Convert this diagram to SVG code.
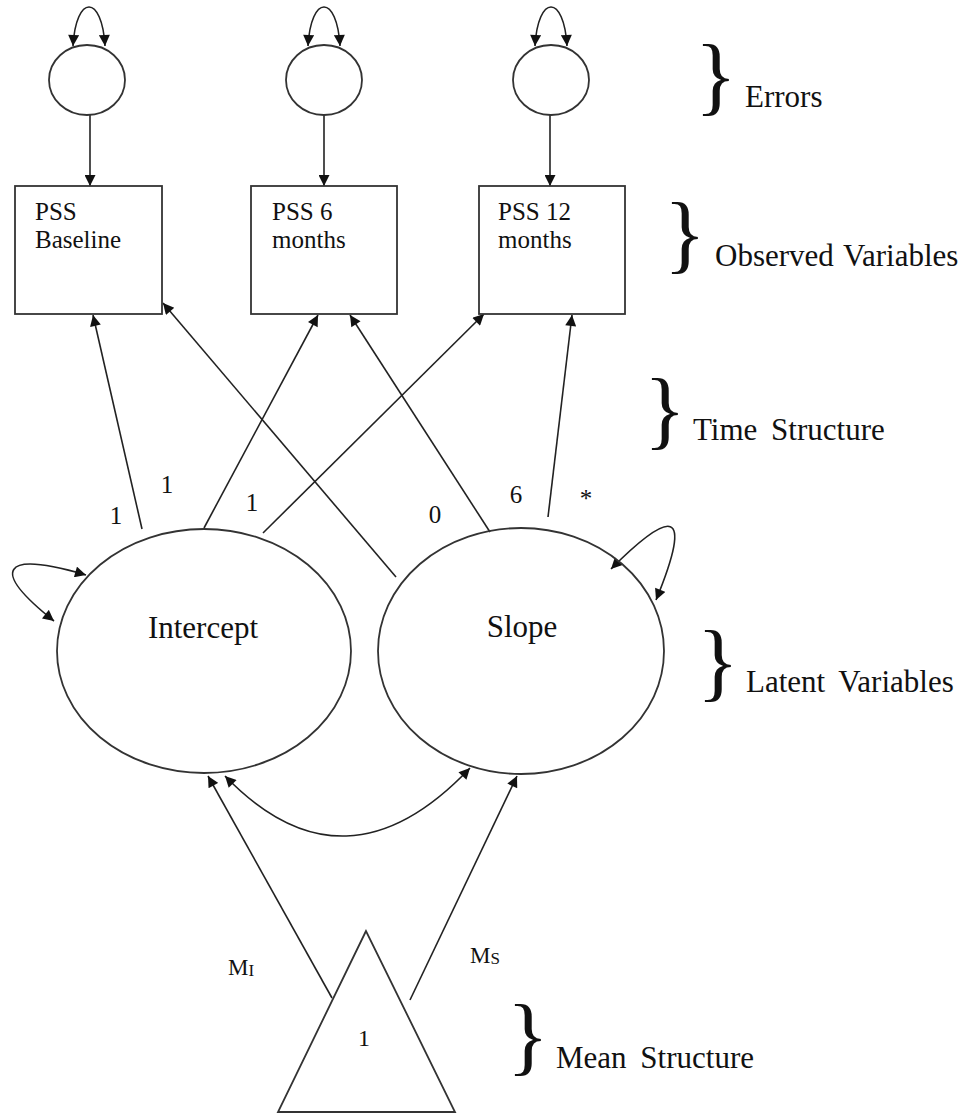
<svg xmlns="http://www.w3.org/2000/svg" width="965" height="1114" viewBox="0 0 965 1114">
<defs>
<marker id="ah" viewBox="0 0 10 10" refX="10" refY="5" markerWidth="13" markerHeight="11" markerUnits="userSpaceOnUse" orient="auto-start-reverse"><path d="M0,0 L10,5 L0,10 z" fill="#111"/></marker>
</defs>
<style>
.n{fill:#fff;stroke:#333;stroke-width:1.8}
.c{fill:none;stroke:#222;stroke-width:1.6}
.a{marker-end:url(#ah)}
.b{marker-start:url(#ah);marker-end:url(#ah)}
.t{font-family:"Liberation Serif","Times New Roman","DejaVu Serif",serif;fill:#111}
.box{font-size:25px}
.lv{font-size:31px;text-anchor:middle}
.lab{font-size:31px;word-spacing:6px}
.br{font-size:87px}
.num{font-size:25px;text-anchor:middle}
.m{font-size:23px}
</style>
<rect width="965" height="1114" fill="#fff"/>

<g id="connectors">
  <!-- error variance loops -->
  <path class="c b" d="M73,46 C76,-6 102,-6 105,46"/>
  <path class="c b" d="M308,46 C311,-6 337,-6 340,46"/>
  <path class="c b" d="M535,46 C538,-6 564,-6 567,46"/>
  <!-- error to observed -->
  <line class="c a" x1="90" y1="115" x2="90" y2="186"/>
  <line class="c a" x1="324" y1="115" x2="324" y2="186"/>
  <line class="c a" x1="550" y1="115" x2="550" y2="186"/>
  <!-- intercept loadings -->
  <line class="c a" x1="142" y1="529" x2="93" y2="315"/>
  <line class="c a" x1="204" y1="528" x2="318" y2="315"/>
  <line class="c a" x1="263" y1="533" x2="484" y2="314"/>
  <!-- slope loadings -->
  <line class="c a" x1="396" y1="577" x2="163" y2="303"/>
  <line class="c a" x1="490" y1="532" x2="350" y2="315"/>
  <line class="c a" x1="548" y1="517" x2="572" y2="315"/>
  <!-- latent variance loops -->
  <path class="c b" d="M86,575 C0,550 -10,570 54,621"/>
  <path class="c b" d="M611,569 C670,510 695,505 656,600"/>
  <!-- covariance -->
  <path class="c b" d="M225,776 Q345,900 470,768"/>
  <!-- mean structure -->
  <line class="c a" x1="332" y1="998" x2="208" y2="776"/>
  <line class="c a" x1="410" y1="1000" x2="517" y2="776"/>
</g>

<g id="error1"><ellipse class="n" cx="87" cy="80" rx="38" ry="35"/></g>
<g id="error2"><ellipse class="n" cx="324" cy="80" rx="38" ry="35"/></g>
<g id="error3"><ellipse class="n" cx="551" cy="80" rx="38" ry="35"/></g>

<g id="pss-baseline">
  <rect class="n" x="15" y="186" width="147" height="128"/>
  <text class="t box" x="35" y="220">PSS</text>
  <text class="t box" x="35" y="248">Baseline</text>
</g>
<g id="pss-6">
  <rect class="n" x="251" y="186" width="146" height="128"/>
  <text class="t box" x="272" y="220">PSS 6</text>
  <text class="t box" x="272" y="248">months</text>
</g>
<g id="pss-12">
  <rect class="n" x="479" y="186" width="146" height="128"/>
  <text class="t box" x="498" y="220">PSS 12</text>
  <text class="t box" x="498" y="248">months</text>
</g>

<g id="intercept">
  <ellipse class="n" cx="204" cy="651" rx="147" ry="122" style="fill:none"/>
  <text class="t lv" x="203" y="638">Intercept</text>
</g>
<g id="slope">
  <ellipse class="n" cx="521" cy="651" rx="143" ry="123" style="fill:none"/>
  <text class="t lv" x="522" y="637">Slope</text>
</g>

<g id="mean">
  <polygon class="n" points="366,931 278,1112 455,1112" style="fill:none"/>
  <text class="t num" x="364" y="1046" style="font-size:24px">1</text>
</g>

<g id="path-labels">
  <text class="t num" x="116" y="524">1</text>
  <text class="t num" x="167" y="493">1</text>
  <text class="t num" x="252" y="511">1</text>
  <text class="t num" x="435" y="523">0</text>
  <text class="t num" x="516" y="503">6</text>
  <text class="t num" x="586" y="507">*</text>
  <text class="t m" x="228" y="975">M<tspan style="font-size:17px" dy="1">I</tspan></text>
  <text class="t m" x="470" y="963">M<tspan style="font-size:17px" dy="1">S</tspan></text>
</g>

<g id="section-labels">
  <text class="t br" x="695" y="104">}</text>
  <text class="t lab" x="745" y="107">Errors</text>
  <text class="t br" x="664" y="262">}</text>
  <text class="t lab" x="715" y="266" style="word-spacing:2px">Observed Variables</text>
  <text class="t br" x="644" y="438">}</text>
  <text class="t lab" x="693" y="440">Time Structure</text>
  <text class="t br" x="697" y="690">}</text>
  <text class="t lab" x="746" y="692">Latent Variables</text>
  <text class="t br" x="507" y="1064">}</text>
  <text class="t lab" x="556" y="1068">Mean Structure</text>
</g>
</svg>
